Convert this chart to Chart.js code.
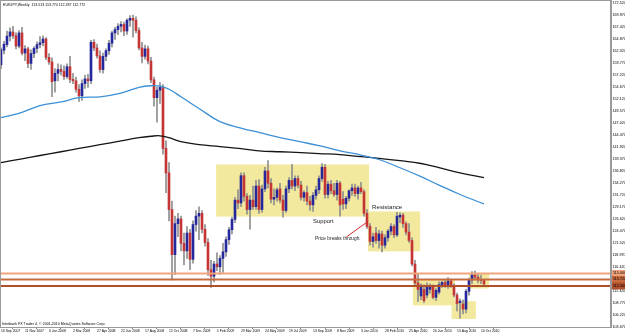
<!DOCTYPE html>
<html>
<head>
<meta charset="utf-8">
<title>EURJPY, Weekly</title>
<script src="https://cdn.jsdelivr.net/npm/chart.js@4.4.1/dist/chart.umd.min.js"></script>
<style>
  html, body { margin: 0; padding: 0; background: #fff; }
  canvas { display: block; }
</style>
</head>
<body>
<canvas id="chart" width="625" height="334"></canvas>
<script>
/* Weekly bars, bar 0 = week of 16 Sep 2007 */
const opens = [
  159.4, 162.5, 163.7, 165.5, 166.4, 165.6, 163.4, 166.2, 161.9, 162.8,
  159.7, 161.8, 162.9, 163.7, 164.1, 164.9, 161.0, 160.0, 156.0, 157.6,
  158.4, 158.0, 156.9, 159.0, 156.3, 156.0, 154.2, 152.8, 155.4, 156.4,
  156.0, 164.2, 163.0, 161.3, 158.4, 161.2, 162.4, 164.0, 166.2, 166.9,
  167.6, 168.0, 166.6, 168.9, 169.3, 168.9, 166.7, 163.0, 161.2, 162.8,
  160.2, 156.2, 152.4, 154.0, 154.6, 141.6, 136.4, 128.6, 119.0, 125.6,
  126.6, 121.4, 119.8, 123.6, 118.0, 125.4, 127.2, 127.8, 124.4, 121.6,
  115.8, 114.4, 117.0, 116.4, 118.2, 119.6, 122.2, 124.3, 126.5, 130.6,
  130.0, 135.8, 131.4, 128.6, 130.6, 129.2, 133.6, 128.6, 133.0, 136.8,
  134.2, 130.8, 131.2, 133.0, 130.6, 128.4, 133.0, 134.8, 133.6, 135.2,
  133.8, 131.2, 132.2, 130.4, 129.6, 131.6, 132.8, 135.2, 137.6, 131.8,
  134.0, 132.6, 131.8, 134.2, 130.8, 129.8, 131.0, 132.6, 133.2, 132.0,
  133.2, 132.4, 127.8, 125.0, 121.8, 123.6, 122.0, 123.4, 121.0, 122.6,
  124.0, 125.0, 123.2, 127.0, 127.4, 125.6, 123.8, 122.0, 117.0, 113.0,
  110.2, 111.6, 110.4, 111.6, 112.2, 109.9, 111.0, 112.6, 113.1, 112.3,
  113.4, 112.4, 110.4, 108.8, 108.5, 107.4, 111.2, 113.6, 114.7, 114.2,
  113.6, 113.513
];
const highs = [
  163.0, 164.4, 166.6, 167.3, 167.6, 166.2, 166.7, 167.4, 163.5, 163.2,
  162.6, 163.3, 164.3, 165.4, 165.6, 165.2, 161.8, 160.9, 158.6, 159.6,
  159.4, 159.2, 159.6, 161.2, 157.6, 156.8, 155.2, 156.2, 157.2, 157.4,
  164.6, 164.8, 163.8, 162.4, 161.9, 162.8, 164.6, 166.6, 167.4, 168.2,
  168.6, 168.5, 169.2, 169.9, 170.0, 169.6, 167.3, 164.2, 163.6, 163.4,
  161.0, 156.8, 154.6, 155.6, 155.2, 143.2, 138.6, 130.4, 127.2, 127.8,
  127.2, 123.6, 125.0, 124.4, 126.2, 128.4, 129.2, 128.4, 125.4, 122.4,
  117.8, 117.6, 119.4, 118.8, 121.4, 122.8, 124.8, 127.0, 131.2, 132.8,
  136.4, 136.4, 132.0, 131.6, 133.6, 134.8, 135.0, 133.8, 137.6, 139.0,
  135.2, 133.0, 133.2, 134.2, 131.6, 133.6, 135.4, 138.2, 135.8, 135.8,
  134.6, 132.6, 133.6, 131.4, 132.2, 133.6, 135.8, 138.4, 138.2, 134.6,
  134.8, 134.2, 134.8, 134.6, 132.4, 131.4, 132.8, 134.0, 134.0, 133.6,
  134.4, 132.8, 128.6, 125.6, 123.6, 124.8, 124.2, 124.0, 123.2, 124.4,
  125.6, 125.4, 128.0, 127.9, 127.8, 126.0, 125.6, 122.6, 117.8, 114.8,
  112.8, 112.6, 113.0, 112.8, 112.6, 111.8, 113.2, 113.4, 113.6, 114.1,
  113.8, 112.8, 110.8, 109.6, 109.4, 111.6, 114.0, 115.4, 115.5, 114.9,
  114.6, 113.770
];
const lows = [
  158.6, 161.7, 163.2, 164.5, 165.0, 162.8, 163.0, 161.5, 160.3, 158.8,
  158.4, 160.9, 162.0, 163.0, 163.4, 160.5, 159.5, 152.6, 153.6, 156.0,
  157.2, 156.3, 156.5, 155.6, 155.4, 153.6, 151.6, 151.8, 154.4, 154.6,
  155.4, 162.4, 160.8, 157.8, 157.6, 160.3, 161.6, 163.2, 164.8, 165.8,
  166.4, 165.6, 165.9, 167.6, 165.3, 166.2, 162.6, 159.8, 160.6, 159.6,
  155.6, 150.6, 147.2, 151.2, 140.4, 132.2, 126.2, 113.6, 114.8, 122.8,
  119.8, 116.8, 118.2, 115.8, 117.2, 124.0, 122.2, 123.6, 120.8, 114.6,
  112.0, 113.2, 115.6, 114.8, 115.2, 118.6, 121.2, 123.4, 125.8, 128.8,
  129.2, 130.4, 127.6, 124.4, 128.6, 128.6, 127.8, 128.0, 132.4, 133.2,
  130.0, 129.6, 130.4, 130.0, 127.0, 128.0, 132.2, 133.0, 132.6, 133.2,
  130.6, 130.4, 129.6, 128.4, 128.2, 130.8, 132.0, 134.6, 131.0, 131.0,
  132.0, 131.4, 130.6, 127.2, 128.6, 128.8, 130.4, 131.6, 131.4, 130.8,
  132.0, 127.2, 124.6, 121.0, 120.6, 121.4, 120.4, 119.6, 120.4, 121.8,
  123.2, 122.6, 122.8, 125.8, 124.8, 123.2, 121.6, 116.6, 112.2, 109.0,
  109.4, 108.8, 109.8, 110.8, 109.6, 109.2, 110.6, 112.0, 112.0, 111.8,
  112.0, 110.0, 107.0, 105.5, 106.4, 106.6, 110.4, 112.8, 113.6, 113.0,
  112.8, 112.287
];
const closes = [
  162.6, 163.8, 165.5, 166.4, 165.6, 163.4, 166.2, 161.9, 162.8, 159.7,
  161.8, 162.9, 163.7, 164.1, 164.9, 161.0, 160.0, 155.8, 157.6, 158.4,
  158.0, 156.9, 159.0, 156.3, 156.0, 154.2, 152.8, 155.4, 156.4, 156.0,
  164.2, 163.0, 161.3, 158.4, 161.2, 162.4, 164.0, 166.2, 166.9, 167.6,
  168.0, 166.6, 168.9, 169.3, 168.9, 166.7, 163.0, 161.2, 162.8, 160.2,
  156.2, 152.4, 154.0, 154.6, 141.6, 136.4, 128.6, 119.0, 125.6, 126.6,
  121.4, 119.8, 123.6, 118.0, 125.4, 127.2, 127.8, 124.4, 121.6, 115.8,
  114.4, 117.0, 116.4, 118.2, 119.6, 122.2, 124.3, 126.5, 130.6, 130.0,
  135.8, 131.4, 128.6, 130.6, 129.2, 133.6, 128.6, 133.0, 136.8, 134.2,
  130.8, 131.2, 132.8, 130.6, 128.4, 133.0, 134.8, 133.6, 135.2, 133.8,
  131.2, 132.2, 130.4, 129.6, 131.6, 132.8, 135.2, 137.6, 131.8, 134.0,
  132.6, 131.8, 134.2, 129.6, 129.8, 131.0, 132.6, 133.2, 132.0, 133.2,
  132.4, 127.8, 125.0, 121.8, 122.8, 122.0, 123.4, 121.0, 122.6, 124.0,
  125.0, 123.2, 127.2, 127.4, 125.6, 123.8, 122.0, 117.0, 113.0, 111.6,
  112.2, 109.2, 112.4, 112.2, 109.9, 111.4, 112.6, 113.1, 112.3, 113.4,
  112.4, 110.4, 108.6, 109.1, 107.4, 111.2, 113.6, 114.7, 114.2, 113.6,
  113.5, 112.772
];

/* Moving averages (bar index -> price) */
const maWeeks  = [0, 7, 13, 20, 26, 33, 40, 46, 50, 53, 56, 60, 66, 73, 80, 86, 93, 100, 106, 113, 120, 126, 133, 140, 146, 153, 161];
const blueMA   = [148.15, 149.3, 150.7, 151.5, 152.4, 152.6, 153.4, 154.6, 154.95, 154.85, 154.2, 152.6, 150.1, 147.3, 145.95, 145.0, 143.9, 143.0, 142.2, 141.1, 140.2, 139.25, 137.5, 135.6, 133.8, 131.8, 129.8];
const blackMA  = [138.6, 139.4, 140.1, 140.9, 141.6, 142.4, 143.2, 143.9, 144.2, 144.3, 143.9, 143.05, 142.4, 142.0, 141.55, 141.1, 140.9, 140.7, 140.5, 140.3, 139.85, 139.5, 139.0, 138.4, 137.5, 136.4, 135.4];

/* Horizontal levels */
const levels = [115.00, 113.72, 112.34];

/* Rectangles: start/end bar, top/bottom price */
const zoneStart = [71.7, 122.3, 137.3, 150.2, 156.0];
const zoneEnd   = [122.7, 139.7, 151.3, 158.3, 162.7];
const zoneHigh  = [138.2, 128.2, 113.7, 109.1, 115.1];
const zoneLow   = [127.1, 119.7, 108.2, 105.3, 111.8];

/* Arrow from the note to the break */
const arrowWeeks = [115.2, 122.4];
const arrowPrice = [122.8, 126.1];

/* Notes */
const noteText  = ['Support', 'Resistance', 'Price breaks through.'];
const noteWeek  = [104.0, 123.7, 104.7];
const notePrice = [126.05, 129.0, 122.45];

/* Axis ticks */
const dateTickWeeks = [0, 8, 16, 24, 32, 40, 48, 56, 64, 72, 80, 88, 96, 104, 112, 120, 128, 136, 144, 152, 160];
const dateLabels = ['16 Sep 2007', '11 Nov 2007', '6 Jan 2008', '2 Mar 2008', '27 Apr 2008', '22 Jun 2008',
  '17 Aug 2008', '12 Oct 2008', '7 Dec 2008', '1 Feb 2009', '29 Mar 2009', '24 May 2009', '19 Jul 2009',
  '13 Sep 2009', '8 Nov 2009', '3 Jan 2010', '28 Feb 2010', '25 Apr 2010', '20 Jun 2010', '15 Aug 2010', '10 Oct 2010'];
const priceTicks = [172.52, 169.97, 167.42, 164.87, 162.32, 159.77, 157.22, 154.67, 152.12, 149.57,
  147.02, 144.47, 141.92, 139.37, 136.82, 134.27, 131.72, 129.17, 126.62, 124.07,
  121.52, 118.97, 116.42, 113.87, 111.32, 108.77, 106.22, 103.67];

const X_MIN = -0.33, X_MAX = 203.33;
const Y_MIN = 103.6, Y_MAX = 173.2;

const BULL = '#25289c';
const BEAR = '#c53535';
const WICK = '#8f8f8f';
const ZONE = 'rgb(243,233,158)';
const LEVEL_COLORS = ['#f0a47c', '#c86a40', '#b0502c'];
const FONT = 'Liberation Sans, Arial, sans-serif';

/* Boxes, notes, frame and captions */
const overlay = {
    id: 'overlay',
    beforeDatasetsDraw(chart) {
        const { ctx, chartArea: a, scales: { x, y } } = chart;
        ctx.save();
        ctx.beginPath();
        ctx.rect(a.left, a.top, a.right - a.left, a.bottom - a.top);
        ctx.clip();
        ctx.fillStyle = ZONE;
        for (let k = 0; k < zoneStart.length; k++) {
            const x0 = x.getPixelForValue(zoneStart[k]);
            const x1 = x.getPixelForValue(zoneEnd[k]);
            const y0 = y.getPixelForValue(zoneHigh[k]);
            const y1 = y.getPixelForValue(zoneLow[k]);
            ctx.fillRect(x0, y0, x1 - x0, y1 - y0);
        }
        ctx.restore();
    },
    afterDatasetsDraw(chart) {
        const { ctx, chartArea: a, scales: { x, y } } = chart;
        ctx.save();
        // notes
        const sizes = [5.9, 6.1, 4.8];
        ctx.fillStyle = '#222';
        ctx.textBaseline = 'middle';
        ctx.textAlign = 'left';
        noteText.forEach((t, k) => {
            ctx.font = sizes[k] + 'px ' + FONT;
            ctx.fillText(t, x.getPixelForValue(noteWeek[k]), y.getPixelForValue(notePrice[k]));
        });
        // level price tags on the axis
        ctx.font = '3.7px ' + FONT;
        levels.forEach((v, k) => {
            const py = y.getPixelForValue(v);
            ctx.fillStyle = LEVEL_COLORS[k];
            ctx.fillRect(a.right + 1, py - 3.5, 14, 7);
            ctx.fillStyle = '#000';
            ctx.fillText(v.toFixed(3), a.right + 2, py);
        });
        ctx.restore();
    },
    afterDraw(chart) {
        const { ctx, chartArea: a } = chart;
        ctx.save();
        ctx.strokeStyle = '#9a9a9a';
        ctx.lineWidth = 1;
        ctx.strokeRect(a.left + 0.5, a.top + 0.5, a.right - a.left - 1, a.bottom - a.top);
        ctx.fillStyle = '#000';
        ctx.textBaseline = 'middle';
        ctx.font = '3.6px ' + FONT;
        ctx.fillText('EURJPY,Weekly  ' + opens[opens.length - 1].toFixed(3) + ' ' + highs[highs.length - 1].toFixed(3) + ' ' +
            lows[lows.length - 1].toFixed(3) + ' ' + closes[closes.length - 1].toFixed(3), 3, 4.5);
        ctx.fillText('Interbank FX Trader 4, \u00a9 2001-2010 MetaQuotes Software Corp.', 2, a.bottom - 3.5);
        ctx.restore();
    }
};

const bodyData = opens.map((o, i) => ({ x: i, y: [o, closes[i]] }));
const wickData = lows.map((l, i) => ({ x: i, y: [l, highs[i]] }));
const bodyColors = closes.map((c, i) => (c >= opens[i] ? BULL : BEAR));

const levelSets = levels.map((v, k) => ({
    type: 'line',
    data: [{ x: X_MIN, y: v }, { x: X_MAX, y: v }],
    borderColor: LEVEL_COLORS[k],
    borderWidth: 2,
    pointRadius: 0,
    order: 3
}));

new Chart(document.getElementById('chart').getContext('2d'), {
    type: 'bar',
    data: {
        datasets: [
            {
                data: wickData,
                backgroundColor: WICK,
                barThickness: 1,
                grouped: false,
                borderWidth: 0,
                order: 5
            },
            {
                data: bodyData,
                backgroundColor: bodyColors,
                barThickness: 2,
                minBarLength: 1,
                grouped: false,
                borderWidth: 0,
                order: 4
            },
            ...levelSets,
            {
                type: 'line',
                data: maWeeks.map((w, k) => ({ x: w, y: blueMA[k] })),
                borderColor: '#3b8fd6',
                borderWidth: 1.3,
                pointRadius: 0,
                tension: 0.4,
                order: 2
            },
            {
                type: 'line',
                data: maWeeks.map((w, k) => ({ x: w, y: blackMA[k] })),
                borderColor: '#151515',
                borderWidth: 1.3,
                pointRadius: 0,
                tension: 0.4,
                order: 2
            },
            {
                type: 'line',
                data: arrowWeeks.map((w, k) => ({ x: w, y: arrowPrice[k] })),
                borderColor: '#d42a2a',
                borderWidth: 1,
                pointRadius: 0,
                order: 1
            }
        ]
    },
    options: {
        responsive: false,
        animation: false,
        devicePixelRatio: 1,
        events: [],
        layout: { padding: 0 },
        plugins: { legend: { display: false }, tooltip: { enabled: false } },
        scales: {
            x: {
                type: 'linear',
                min: X_MIN,
                max: X_MAX,
                offset: false,
                grid: { drawOnChartArea: false, tickLength: 2, color: '#888' },
                border: { color: '#9a9a9a' },
                ticks: {
                    autoSkip: false,
                    maxRotation: 0,
                    align: 'start',
                    padding: 0,
                    color: '#000',
                    font: { family: FONT, size: 3.4 },
                    callback: (v, idx) => dateLabels[idx]
                },
                afterBuildTicks: s => { s.ticks = dateTickWeeks.map(v => ({ value: v })); },
                afterFit: s => { s.height = 7; s.paddingLeft = 0; s.paddingRight = 0; }
            },
            y: {
                type: 'linear',
                position: 'right',
                min: Y_MIN,
                max: Y_MAX,
                grid: { drawOnChartArea: false, tickLength: 1, color: '#888' },
                border: { color: '#9a9a9a' },
                ticks: {
                    autoSkip: false,
                    padding: 0.5,
                    color: '#000',
                    font: { family: FONT, size: 3.7 },
                    callback: v => v.toFixed(3)
                },
                afterBuildTicks: s => { s.ticks = priceTicks.map(v => ({ value: v })); },
                afterFit: s => { s.width = 14; s.paddingTop = 0; s.paddingBottom = 0; }
            }
        }
    },
    plugins: [overlay]
});
</script>
</body>
</html>
